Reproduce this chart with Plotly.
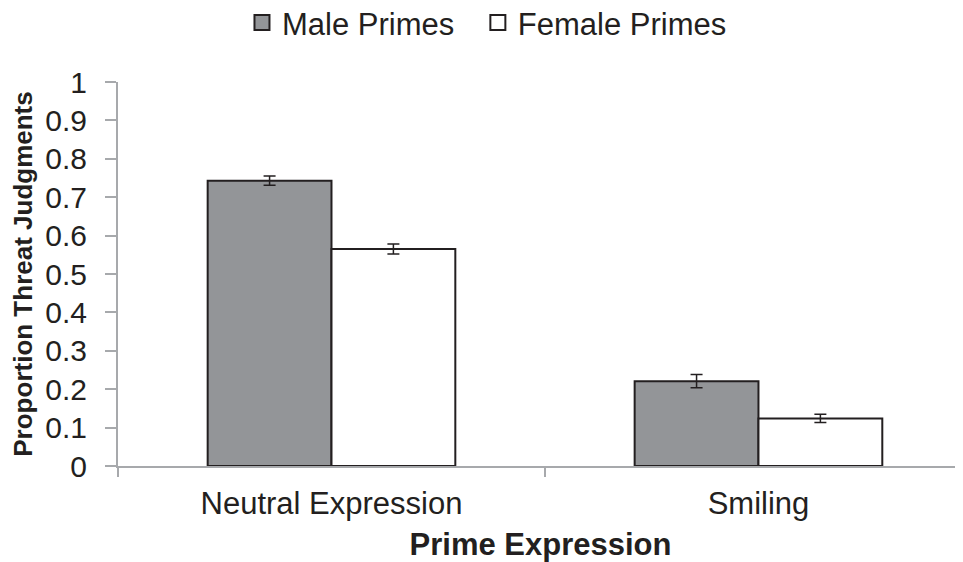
import plotly.graph_objects as go

categories = ["Neutral Expression", "Smiling"]
series_names = ["Male Primes", "Female Primes"]
male_values = [0.743, 0.221]
male_err = [0.012, 0.017]
female_values = [0.565, 0.124]
female_err = [0.013, 0.011]
x_pos = [0, 1]

edge = "#231f20"
fills = ["#939598", "#ffffff"]
legend_ids = ["legend", "legend2"]
fig = go.Figure()
for name, vals, errs, fill in zip(series_names, [male_values, female_values],
                                   [male_err, female_err], fills):
    fig.add_trace(go.Bar(
        x=x_pos, y=vals, name=name, showlegend=False, legendgroup=name,
        marker=dict(color=fill, line=dict(color=edge, width=2)),
        error_y=dict(type="data", array=errs, color=edge, thickness=1.5, width=6),
    ))
for name, fill, lg in zip(series_names, fills, legend_ids):
    fig.add_trace(go.Scatter(
        x=[None], y=[None], mode="markers", name=name, legendgroup=name, legend=lg,
        marker=dict(symbol="square", size=15, color=fill, line=dict(color=edge, width=2)),
    ))

font_family = "Liberation Sans, Arial, sans-serif"
legend_common = dict(orientation="h", xref="container", yref="container",
                     xanchor="left", y=0.973, yanchor="middle",
                     font=dict(size=31, family=font_family), itemwidth=30)
fig.update_layout(
    width=955, height=554,
    margin=dict(l=110, r=0, t=74, b=96, autoexpand=False),
    paper_bgcolor="white", plot_bgcolor="white",
    barmode="group", bargap=0.42, bargroupgap=0,
    font=dict(family=font_family, color="#231f20"),
    showlegend=True,
    legend=dict(x=0.245, **legend_common),
    legend2=dict(x=0.492, **legend_common),
    xaxis=dict(
        range=[-0.5, 1.479], tickmode="array", tickvals=x_pos, ticktext=categories,
        ticks="", tickfont=dict(size=31), showgrid=False, zeroline=False, automargin=False,
        showline=True, linecolor="#a7a9ac", linewidth=2, ticklabelstandoff=9,
        minor=dict(tickmode="array", tickvals=[-0.5, 0.5, 1.5], ticks="outside",
                   ticklen=9, tickcolor="#a7a9ac", tickwidth=1.5, showgrid=False),
        title=dict(text="<b>Prime Expression</b>", font=dict(size=31), standoff=24),
    ),
    yaxis=dict(
        range=[0, 1], dtick=0.1, tick0=0, ticks="outside", ticklen=11, automargin=False,
        tickcolor="#a7a9ac", tickwidth=1.5, tickfont=dict(size=30), ticklabelstandoff=12,
        showgrid=False, zeroline=False, showline=True, linecolor="#a7a9ac", linewidth=2,
        title=dict(text="<b>Proportion Threat Judgments</b>", font=dict(size=26), standoff=6),
    ),
)
fig.write_html("out.html")
